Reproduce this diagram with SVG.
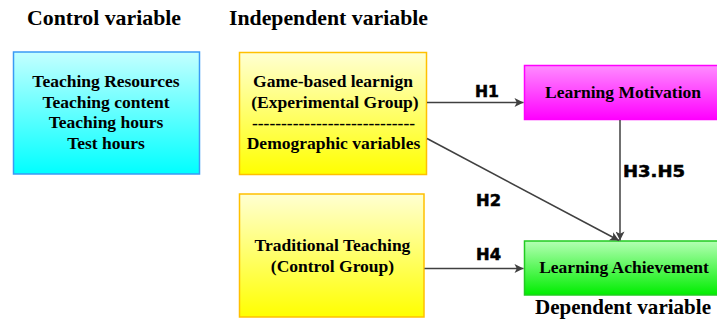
<svg xmlns="http://www.w3.org/2000/svg" width="717" height="324" viewBox="0 0 717 324">
<defs>
<linearGradient id="gCyan" x1="0" y1="0" x2="0" y2="1"><stop offset="0" stop-color="#c4ffff"/><stop offset="1" stop-color="#00ffff"/></linearGradient>
<linearGradient id="gYellow" x1="0" y1="0" x2="0" y2="1"><stop offset="0" stop-color="#ffffd2"/><stop offset="1" stop-color="#ffff00"/></linearGradient>
<linearGradient id="gMagenta" x1="0" y1="0" x2="0" y2="1"><stop offset="0" stop-color="#ff8cff"/><stop offset="1" stop-color="#ff00ff"/></linearGradient>
<linearGradient id="gGreen" x1="0" y1="0" x2="0" y2="1"><stop offset="0" stop-color="#b4ffb4"/><stop offset="1" stop-color="#00ee00"/></linearGradient>
<marker id="arr" viewBox="0 0 10 10" refX="10" refY="5" markerWidth="10" markerHeight="9" markerUnits="userSpaceOnUse" orient="auto"><path d="M0,0 L10,5 L0,10 L2.5,5 Z" fill="#404040"/></marker>
</defs>
<style>
.title{font-family:"Liberation Serif","Times New Roman",serif;font-weight:bold;font-size:22px;fill:#000}
.bt{font-family:"Liberation Serif","Times New Roman",serif;font-weight:bold;font-size:17.5px;fill:#000;text-anchor:middle}
.lbl{font-family:"DejaVu Sans",sans-serif;font-weight:bold;font-size:15px;fill:#000;stroke:#000;stroke-width:0.5}
.conn{stroke:#404040;stroke-width:1.5;fill:none;marker-end:url(#arr)}
</style>
<rect width="717" height="324" fill="#fff"/>
<text class="title" x="27" y="25" textLength="154" lengthAdjust="spacingAndGlyphs">Control variable</text>
<text class="title" x="229" y="25" textLength="199" lengthAdjust="spacingAndGlyphs">Independent variable</text>
<text class="title" x="535" y="314" style="font-size:21px" textLength="176" lengthAdjust="spacingAndGlyphs">Dependent variable</text>
<g id="control">
<rect x="13.5" y="52" width="186" height="122" fill="url(#gCyan)" stroke="#3a9af5" stroke-width="1.5"/>
<text class="bt" x="106" y="87">Teaching Resources</text>
<text class="bt" x="106" y="107.5">Teaching content</text>
<text class="bt" x="106" y="128">Teaching hours</text>
<text class="bt" x="106" y="148.5">Test hours</text>
</g>
<g id="game">
<rect x="239.5" y="52.5" width="187" height="122" fill="url(#gYellow)" stroke="#ffc000" stroke-width="1.5"/>
<text class="bt" x="333" y="87">Game-based learnign</text>
<text class="bt" x="335" y="108">(Experimental Group)</text>
<text class="bt" x="333.5" y="129">----------------------------</text>
<text class="bt" x="333.5" y="149">Demographic variables</text>
</g>
<g id="traditional">
<rect x="239.5" y="194" width="184.5" height="123" fill="url(#gYellow)" stroke="#ffc000" stroke-width="1.5"/>
<text class="bt" x="332.5" y="251">Traditional Teaching</text>
<text class="bt" x="332.5" y="272">(Control Group)</text>
</g>
<g id="motivation">
<rect x="524.5" y="65.5" width="200" height="54" fill="url(#gMagenta)" stroke="#ff00ff" stroke-width="1.5"/>
<text class="bt" x="623" y="98">Learning Motivation</text>
</g>
<g id="achievement">
<rect x="524.5" y="241" width="200" height="54" fill="url(#gGreen)" stroke="#22cc22" stroke-width="1.5"/>
<text class="bt" x="624" y="273">Learning Achievement</text>
</g>
<g id="connectors">
<line class="conn" x1="427" y1="102.5" x2="523.5" y2="102.5"/>
<line class="conn" x1="427" y1="138.5" x2="619" y2="240.5"/>
<line class="conn" x1="620" y1="120" x2="620" y2="240.5"/>
<line class="conn" x1="424.5" y1="268.5" x2="523.5" y2="268.5"/>
<text class="lbl" x="475" y="97" textLength="24" lengthAdjust="spacingAndGlyphs">H1</text>
<text class="lbl" x="476" y="205.5" textLength="25" lengthAdjust="spacingAndGlyphs">H2</text>
<text class="lbl" x="623" y="177" textLength="62" lengthAdjust="spacingAndGlyphs">H3.H5</text>
<text class="lbl" x="476" y="260" textLength="25" lengthAdjust="spacingAndGlyphs">H4</text>
</g>
</svg>
